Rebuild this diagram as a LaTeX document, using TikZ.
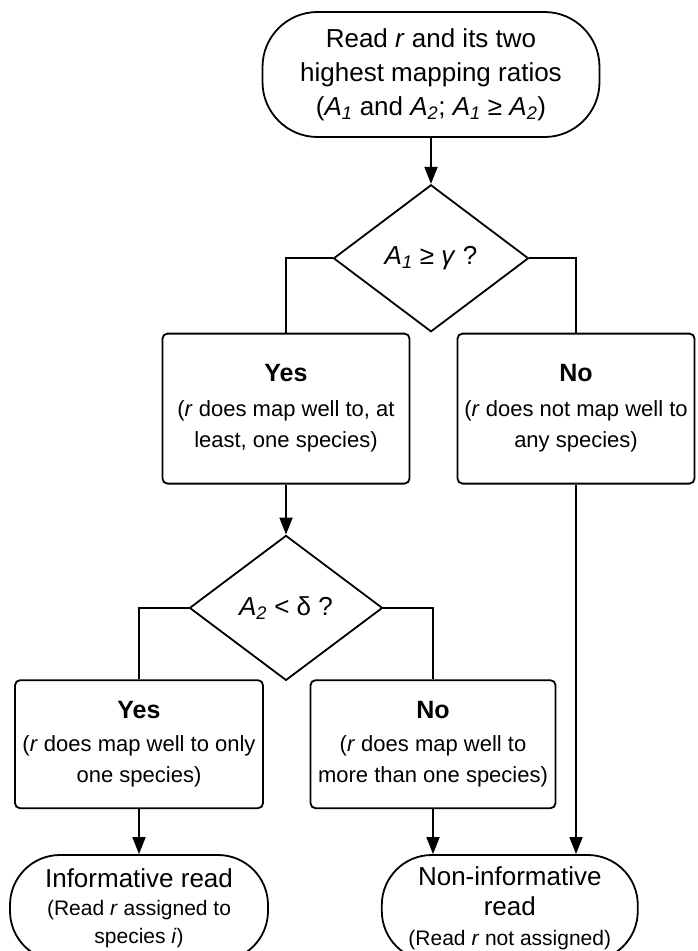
\documentclass[tikz,border=0pt]{standalone}
\usepackage{fontspec}
\setmainfont{Liberation Sans}
\usetikzlibrary{positioning,shapes.geometric,arrows.meta}

\begin{document}
\begin{tikzpicture}[
    line width=1.8pt,
    term/.style={draw, rounded corners=55pt, align=center, inner sep=0pt},
    decision/.style={draw, diamond, aspect=1.33, inner sep=0pt, align=center},
    outcome/.style={draw, rounded corners=5pt, align=center, inner sep=0pt,
      font=\fontsize{22}{31}\selectfont},
    arr/.style={-{Triangle[length=17pt,width=13pt]}}
  ]
  \useasboundingbox (0pt,0pt) rectangle (697pt,-951pt);

  % Define nodes
  \node[term, minimum width=337pt, minimum height=125pt,
    font=\fontsize{26}{34}\selectfont]                          (start) at (431pt,-74.5pt)
    {Read \textit{r} and its two\\highest mapping ratios\\(\textit{A\textsubscript{1}} and \textit{A\textsubscript{2}}; \textit{A\textsubscript{1}} ≥ \textit{A\textsubscript{2}})};

  \node[decision, minimum width=195pt, minimum height=147pt,
    font=\fontsize{26}{30}\selectfont, below=46pt of start]      (d1)
    {\textit{A\textsubscript{1}} ≥ \textit{γ} ?};

  \node[outcome, minimum width=247pt, minimum height=150pt,
    below=0pt of d1.south, xshift=-145pt]                        (yes1)
    {{\fontsize{25}{31}\selectfont\bfseries Yes}\\[4pt](\textit{r} does map well to, at\\least, one species)};
  \node[outcome, minimum width=237pt, minimum height=150pt,
    below=0pt of d1.south, xshift=145pt]                         (no1)
    {{\fontsize{25}{31}\selectfont\bfseries No}\\[4pt](\textit{r} does not map well to\\any species)};

  \node[decision, minimum width=193pt, minimum height=145pt,
    font=\fontsize{26}{30}\selectfont, below=50pt of yes1]       (d2)
    {\textit{A\textsubscript{2}} < δ ?};

  \node[outcome, minimum width=248pt, minimum height=128pt,
    below=-2pt of d2.south, xshift=-147pt]                       (yes2)
    {{\fontsize{25}{31}\selectfont\bfseries Yes}\\[2pt](\textit{r} does map well to only\\one species)};
  \node[outcome, minimum width=245pt, minimum height=128pt,
    below=-2pt of d2.south, xshift=147pt]                        (no2)
    {{\fontsize{25}{31}\selectfont\bfseries No}\\[2pt](\textit{r} does map well to\\more than one species)};

  \node[term, rounded corners=50pt, minimum width=258pt, minimum height=106pt,
    font=\fontsize{21}{28}\selectfont, below=45pt of yes2]       (inf)
    {{\fontsize{26}{30}\selectfont Informative read}\\(Read \textit{r} assigned to\\species \textit{i})};
  \node[term, rounded corners=50pt, minimum width=256pt, minimum height=106pt,
    font=\fontsize{21}{30}\selectfont, right=112pt of inf]       (non)
    {{\fontsize{26}{32}\selectfont Non-informative}\\{\fontsize{26}{32}\selectfont read}\\(Read \textit{r} not assigned)};

  % Connect the nodes
  \draw[arr] (start) -- (d1);
  \draw (d1.west) -| (yes1.north);
  \draw (d1.east) -| (no1.north);
  \draw[arr] (yes1) -- (d2);
  \draw (d2.west) -| (yes2.north);
  \draw (d2.east) -| (no2.north);
  \draw[arr] (yes2) -- (inf);
  \draw[arr] (no2.south) -- (no2.south |- non.north);
  \draw[arr] (no1.south) -- (no1.south |- non.north);

\end{tikzpicture}
\end{document}
